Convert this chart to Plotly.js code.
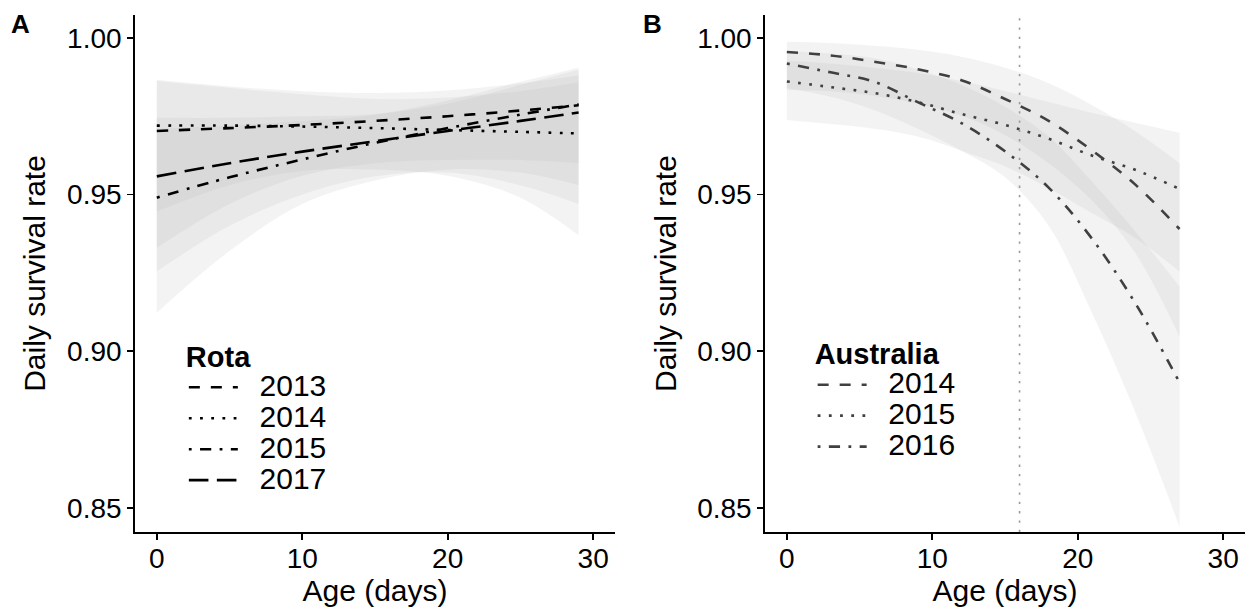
<!DOCTYPE html>
<html>
<head>
<meta charset="utf-8">
<script src="https://cdn.plot.ly/plotly-3.0.1.min.js"></script>
<style>html,body{margin:0;padding:0;background:#fff;}#chart{width:1249px;height:616px;}</style>
</head>
<body>
<div id="chart"></div>
<script>
// ---------- Panel A: Rota ----------
const rotaAge = [0, 5, 10, 15, 20, 25, 29];
const rotaYears = ['2013', '2014', '2015', '2017'];
const rota2013 = [0.9703, 0.9712, 0.9722, 0.9735, 0.9750, 0.9768, 0.9785];
const rota2013Lo = [0.9330, 0.9470, 0.9560, 0.9600, 0.9610, 0.9610, 0.9600];
const rota2013Hi = [0.9866, 0.9845, 0.9830, 0.9824, 0.9832, 0.9855, 0.9880];
const rota2014 = [0.9720, 0.9720, 0.9717, 0.9712, 0.9706, 0.9700, 0.9695];
const rota2014Lo = [0.9446, 0.9530, 0.9575, 0.9580, 0.9560, 0.9490, 0.9370];
const rota2014Hi = [0.9862, 0.9840, 0.9820, 0.9805, 0.9810, 0.9830, 0.9858];
const rota2015 = [0.9490, 0.9555, 0.9612, 0.9665, 0.9712, 0.9755, 0.9788];
const rota2015Lo = [0.9123, 0.9320, 0.9470, 0.9545, 0.9580, 0.9570, 0.9530];
const rota2015Hi = [0.9710, 0.9720, 0.9735, 0.9755, 0.9800, 0.9860, 0.9905];
const rota2017 = [0.9558, 0.9600, 0.9637, 0.9670, 0.9703, 0.9735, 0.9762];
const rota2017Lo = [0.9255, 0.9400, 0.9500, 0.9558, 0.9570, 0.9530, 0.9470];
const rota2017Hi = [0.9745, 0.9745, 0.9750, 0.9757, 0.9790, 0.9850, 0.9898];

// ---------- Panel B: Australia ----------
const ausAge = [0, 3, 6, 9, 12, 15, 18, 21, 24, 27];
const ausYears = ['2014', '2015', '2016'];
const aus2014 = [0.9955, 0.9944, 0.9924, 0.9900, 0.9865, 0.9805, 0.9735, 0.9640, 0.9530, 0.9390];
const aus2014Lo = [0.9834, 0.9830, 0.9815, 0.9790, 0.9752, 0.9690, 0.9600, 0.9480, 0.9310, 0.9046];
const aus2014Hi = [0.9988, 0.9984, 0.9975, 0.9962, 0.9940, 0.9905, 0.9855, 0.9785, 0.9700, 0.9600];
const aus2015 = [0.9861, 0.9843, 0.9824, 0.9795, 0.9757, 0.9722, 0.9678, 0.9624, 0.9578, 0.9518];
const aus2015Lo = [0.9738, 0.9725, 0.9710, 0.9685, 0.9640, 0.9590, 0.9520, 0.9440, 0.9360, 0.9254];
const aus2015Hi = [0.9927, 0.9918, 0.9905, 0.9888, 0.9862, 0.9830, 0.9795, 0.9760, 0.9728, 0.9697];
const aus2016 = [0.9918, 0.9890, 0.9860, 0.9795, 0.9728, 0.9638, 0.9522, 0.9358, 0.9150, 0.8900];
const aus2016Lo = [0.9840, 0.9812, 0.9770, 0.9710, 0.9640, 0.9555, 0.9400, 0.9120, 0.8800, 0.8440];
const aus2016Hi = [0.9958, 0.9950, 0.9935, 0.9900, 0.9850, 0.9780, 0.9685, 0.9540, 0.9380, 0.9206];
const ausMarkAge = [16];

// ---------- Axis ticks ----------
const xTicks = [0, 10, 20, 30];
const yTicks = [0.85, 0.90, 0.95, 1.00];
const yTickText = ['0.85', '0.90', '0.95', '1.00'];

// ---------- styling ----------
const FONT = 'Liberation Sans, Arial, Helvetica, sans-serif';
const LW = 2.6;
const DASH = {
  dashed: '11px,11px',
  dotted: '2.8px,8.4px',
  dotdash: '2.8px,8.4px,11.2px,8.4px',
  longdash: '19.6px,8.4px'
};
const RIBBON = 'rgba(185,185,185,0.17)';
const LINE_A = '#000000';
const LINE_B = '#404040';
const LEG_TEXT = 30;
const LEG_TITLE = 29;

const traces = [];
function ribbon(x, lo, hi, xa, ya) {
  traces.push({x: x, y: lo, xaxis: xa, yaxis: ya, type: 'scatter', mode: 'lines',
    line: {width: 0, shape: 'spline', smoothing: 1}, showlegend: false, hoverinfo: 'skip'});
  traces.push({x: x, y: hi, xaxis: xa, yaxis: ya, type: 'scatter', mode: 'lines',
    fill: 'tonexty', fillcolor: RIBBON,
    line: {width: 0, shape: 'spline', smoothing: 1}, showlegend: false, hoverinfo: 'skip'});
}
const lines = [];
function curve(x, y, name, dash, color, xa, ya, leg) {
  lines.push({x: x, y: y, xaxis: xa, yaxis: ya, type: 'scatter', mode: 'lines',
    name: '<span style="font-size:' + LEG_TEXT + 'px">\u00a0\u00a0' + name + '</span>',
    line: {color: color, width: LW, dash: dash, shape: 'spline', smoothing: 1},
    legend: leg, showlegend: true});
}

ribbon(rotaAge, rota2013Lo, rota2013Hi, 'x', 'y');
ribbon(rotaAge, rota2014Lo, rota2014Hi, 'x', 'y');
ribbon(rotaAge, rota2015Lo, rota2015Hi, 'x', 'y');
ribbon(rotaAge, rota2017Lo, rota2017Hi, 'x', 'y');
ribbon(ausAge, aus2014Lo, aus2014Hi, 'x2', 'y2');
ribbon(ausAge, aus2015Lo, aus2015Hi, 'x2', 'y2');
ribbon(ausAge, aus2016Lo, aus2016Hi, 'x2', 'y2');

curve(rotaAge, rota2013, rotaYears[0], DASH.dashed, LINE_A, 'x', 'y', 'legend');
curve(rotaAge, rota2014, rotaYears[1], DASH.dotted, LINE_A, 'x', 'y', 'legend');
curve(rotaAge, rota2015, rotaYears[2], DASH.dotdash, LINE_A, 'x', 'y', 'legend');
curve(rotaAge, rota2017, rotaYears[3], DASH.longdash, LINE_A, 'x', 'y', 'legend');
curve(ausAge, aus2014, ausYears[0], DASH.dashed, LINE_B, 'x2', 'y2', 'legend2');
curve(ausAge, aus2015, ausYears[1], DASH.dotted, LINE_B, 'x2', 'y2', 'legend2');
curve(ausAge, aus2016, ausYears[2], DASH.dotdash, LINE_B, 'x2', 'y2', 'legend2');

const data = traces.concat(lines);

function xAxis(domain, anchor) {
  return {domain: domain, anchor: anchor, range: [-1.5, 31.5], tickvals: xTicks,
    ticks: 'outside', ticklen: 6, tickwidth: 1.6, tickcolor: '#000',
    showline: true, linecolor: '#000', linewidth: 1.8, showgrid: false, zeroline: false,
    tickfont: {family: FONT, size: 28, color: '#000'}, automargin: false, ticklabelstandoff: -5,
    title: {text: 'Age (days)', font: {family: FONT, size: 30, color: '#000'}, standoff: 2}};
}
function yAxis(anchor) {
  return {domain: [0, 1], anchor: anchor, range: [0.8423, 1.0073], tickvals: yTicks, ticktext: yTickText,
    ticks: 'outside', ticklen: 6, tickwidth: 1.6, tickcolor: '#000',
    showline: true, linecolor: '#000', linewidth: 1.8, showgrid: false, zeroline: false,
    tickfont: {family: FONT, size: 28, color: '#000'}, automargin: false,
    title: {text: 'Daily survival rate', font: {family: FONT, size: 30, color: '#000'}, standoff: 12}};
}

const legendBase = {
  xanchor: 'left', yanchor: 'top', bgcolor: 'rgba(0,0,0,0)', borderwidth: 0,
  font: {family: FONT, size: 21.5, color: '#000'}, tracegroupgap: 0, traceorder: 'normal',
  itemwidth: 49, itemclick: false
};
function legTitle(t) {
  return {text: '<span style="font-size:' + LEG_TITLE + 'px">' + t + '</span>',
    font: {family: FONT, size: 32, color: '#000', weight: 'bold'}};
}

const layout = {
  width: 1249, height: 616,
  margin: {l: 135, r: 4, t: 15, b: 84},
  paper_bgcolor: '#fff', plot_bgcolor: '#fff',
  font: {family: FONT, color: '#000'},
  xaxis: xAxis([0, 0.4324], 'y'),
  yaxis: yAxis('x'),
  xaxis2: xAxis([0.5676, 1], 'y2'),
  yaxis2: yAxis('x2'),
  legend: Object.assign({}, legendBase, {x: 0.044, y: 0.4, title: legTitle('Rota')}),
  legend2: Object.assign({}, legendBase, {x: 0.6105, y: 0.405, title: legTitle('Australia')}),
  shapes: [{type: 'line', xref: 'x2', yref: 'y2 domain', x0: ausMarkAge[0], x1: ausMarkAge[0], y0: 0, y1: 1,
    line: {color: '#9a9a9a', width: 1.6, dash: '2.3px,7px'}, layer: 'above'}],
  annotations: [
    {text: 'A', xref: 'paper', yref: 'paper', x: -0.1135, y: 0.983, xanchor: 'left', yanchor: 'middle',
      showarrow: false, font: {family: FONT, size: 26, color: '#000', weight: 'bold'}},
    {text: 'B', xref: 'paper', yref: 'paper', x: 0.4561, y: 0.983, xanchor: 'left', yanchor: 'middle',
      showarrow: false, font: {family: FONT, size: 26, color: '#000', weight: 'bold'}}
  ],
  showlegend: true
};

Plotly.newPlot('chart', data, layout, {displayModeBar: false, staticPlot: true});
</script>
</body>
</html>
